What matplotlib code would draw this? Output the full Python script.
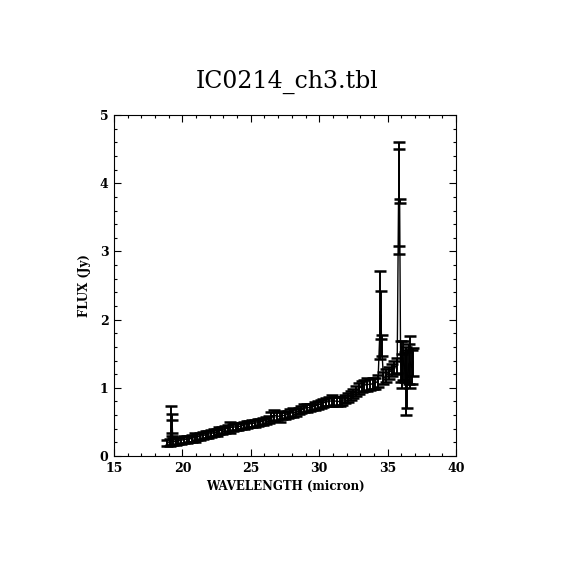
import matplotlib
matplotlib.use('Agg')
import matplotlib.pyplot as plt
from matplotlib.ticker import MultipleLocator

# spectrum
wave = [18.9, 19.1, 19.18, 19.22, 19.26, 19.3, 19.5, 19.7, 19.9,
        20.1, 20.3, 20.5, 20.7, 20.9, 21.1, 21.3, 21.5, 21.7, 21.9,
        22.1, 22.3, 22.5, 22.7, 22.9, 23.1, 23.3, 23.5, 23.7, 23.9,
        24.1, 24.3, 24.5, 24.7, 24.9, 25.1, 25.3, 25.5, 25.7, 25.9,
        26.1, 26.3, 26.5, 26.7, 26.9, 27.1, 27.3, 27.5, 27.7, 27.9,
        28.1, 28.3, 28.5, 28.7, 28.9, 29.1, 29.3, 29.5, 29.7, 29.9,
        30.1, 30.3, 30.5, 30.7, 30.9, 31.1, 31.3, 31.5, 31.7, 31.9,
        32.1, 32.3, 32.5, 32.7, 32.9, 33.1, 33.3, 33.5, 33.7, 33.9,
        34.1, 34.3, 34.48, 34.52, 34.56, 34.7, 34.9, 35.1, 35.3, 35.5,
        35.7, 35.8, 35.84, 35.88, 35.95, 36.05, 36.15, 36.25, 36.35,
        36.45, 36.55, 36.65, 36.75, 36.85]
flux = [0.19, 0.20, 0.45, 0.45, 0.435, 0.21, 0.21, 0.22, 0.23,
        0.24, 0.245, 0.25, 0.26, 0.27, 0.28, 0.29, 0.30, 0.31, 0.32,
        0.33, 0.34, 0.35, 0.37, 0.38, 0.39, 0.41, 0.42, 0.42, 0.43,
        0.43, 0.44, 0.45, 0.46, 0.47, 0.48, 0.48, 0.49, 0.50, 0.51,
        0.52, 0.54, 0.58, 0.60, 0.59, 0.58, 0.59, 0.60, 0.61, 0.63,
        0.64, 0.64, 0.66, 0.68, 0.70, 0.71, 0.71, 0.72, 0.73, 0.75,
        0.76, 0.78, 0.79, 0.80, 0.81, 0.81, 0.80, 0.80, 0.81, 0.84,
        0.86, 0.89, 0.92, 0.95, 0.99, 1.02, 1.04, 1.05, 1.05, 1.06,
        1.07, 1.10, 2.07, 2.07, 1.62, 1.14, 1.18, 1.22, 1.26, 1.30,
        1.33, 3.78, 3.79, 3.74, 1.38, 1.25, 1.40, 1.30, 1.10,
        1.13, 1.35, 1.38, 1.30, 1.38]
err = [0.05, 0.05, 0.29, 0.16, 0.095, 0.05, 0.05, 0.05, 0.05,
       0.05, 0.05, 0.05, 0.05, 0.07, 0.05, 0.05, 0.05, 0.05, 0.05,
       0.05, 0.05, 0.05, 0.05, 0.05, 0.05, 0.05, 0.08, 0.05, 0.05,
       0.05, 0.05, 0.05, 0.05, 0.05, 0.05, 0.05, 0.05, 0.05, 0.05,
       0.05, 0.05, 0.06, 0.08, 0.06, 0.08, 0.05, 0.05, 0.05, 0.06,
       0.07, 0.05, 0.05, 0.05, 0.06, 0.06, 0.05, 0.05, 0.06, 0.06,
       0.06, 0.06, 0.06, 0.06, 0.08, 0.06, 0.06, 0.06, 0.06, 0.06,
       0.07, 0.07, 0.07, 0.07, 0.08, 0.08, 0.08, 0.09, 0.08, 0.08,
       0.08, 0.09, 0.65, 0.35, 0.15, 0.09, 0.09, 0.09, 0.09, 0.10,
       0.11, 0.82, 0.71, 0.035, 0.30, 0.25, 0.28, 0.22, 0.50,
       0.43, 0.30, 0.38, 0.25, 0.20]

plt.rcParams['font.family'] = 'DejaVu Serif'

fig = plt.figure(figsize=(5.7, 5.7), dpi=100)
ax = fig.add_axes([0.2, 0.2, 0.6, 0.598])

ax.errorbar(wave, flux, yerr=err, fmt='-', color='k', lw=1.0,
            elinewidth=1.4, capsize=4, capthick=1.8)

ax.set_xlim(15, 40)
ax.set_ylim(0, 5)
ax.xaxis.set_major_locator(MultipleLocator(5))
ax.xaxis.set_minor_locator(MultipleLocator(1))
ax.yaxis.set_major_locator(MultipleLocator(1))
ax.yaxis.set_minor_locator(MultipleLocator(0.2))
ax.tick_params(which='both', direction='in', top=True, right=True,
               width=0.8, labelsize=9, pad=4)
ax.tick_params(which='major', length=5)
ax.tick_params(which='minor', length=2.5)
for lbl in ax.get_xticklabels() + ax.get_yticklabels():
    lbl.set_fontweight('bold')
for s in ax.spines.values():
    s.set_linewidth(0.8)

fig.text(0.503, 0.856, 'IC0214_ch3.tbl', ha='center', va='center',
         fontsize=17, fontweight='light')
ax.set_xlabel('WAVELENGTH (micron)', fontsize=8.5, fontweight='bold',
              labelpad=4)
ax.set_ylabel('FLUX (Jy)', fontsize=8.5, fontweight='bold', labelpad=6)

fig.savefig('out.png', dpi=100)
